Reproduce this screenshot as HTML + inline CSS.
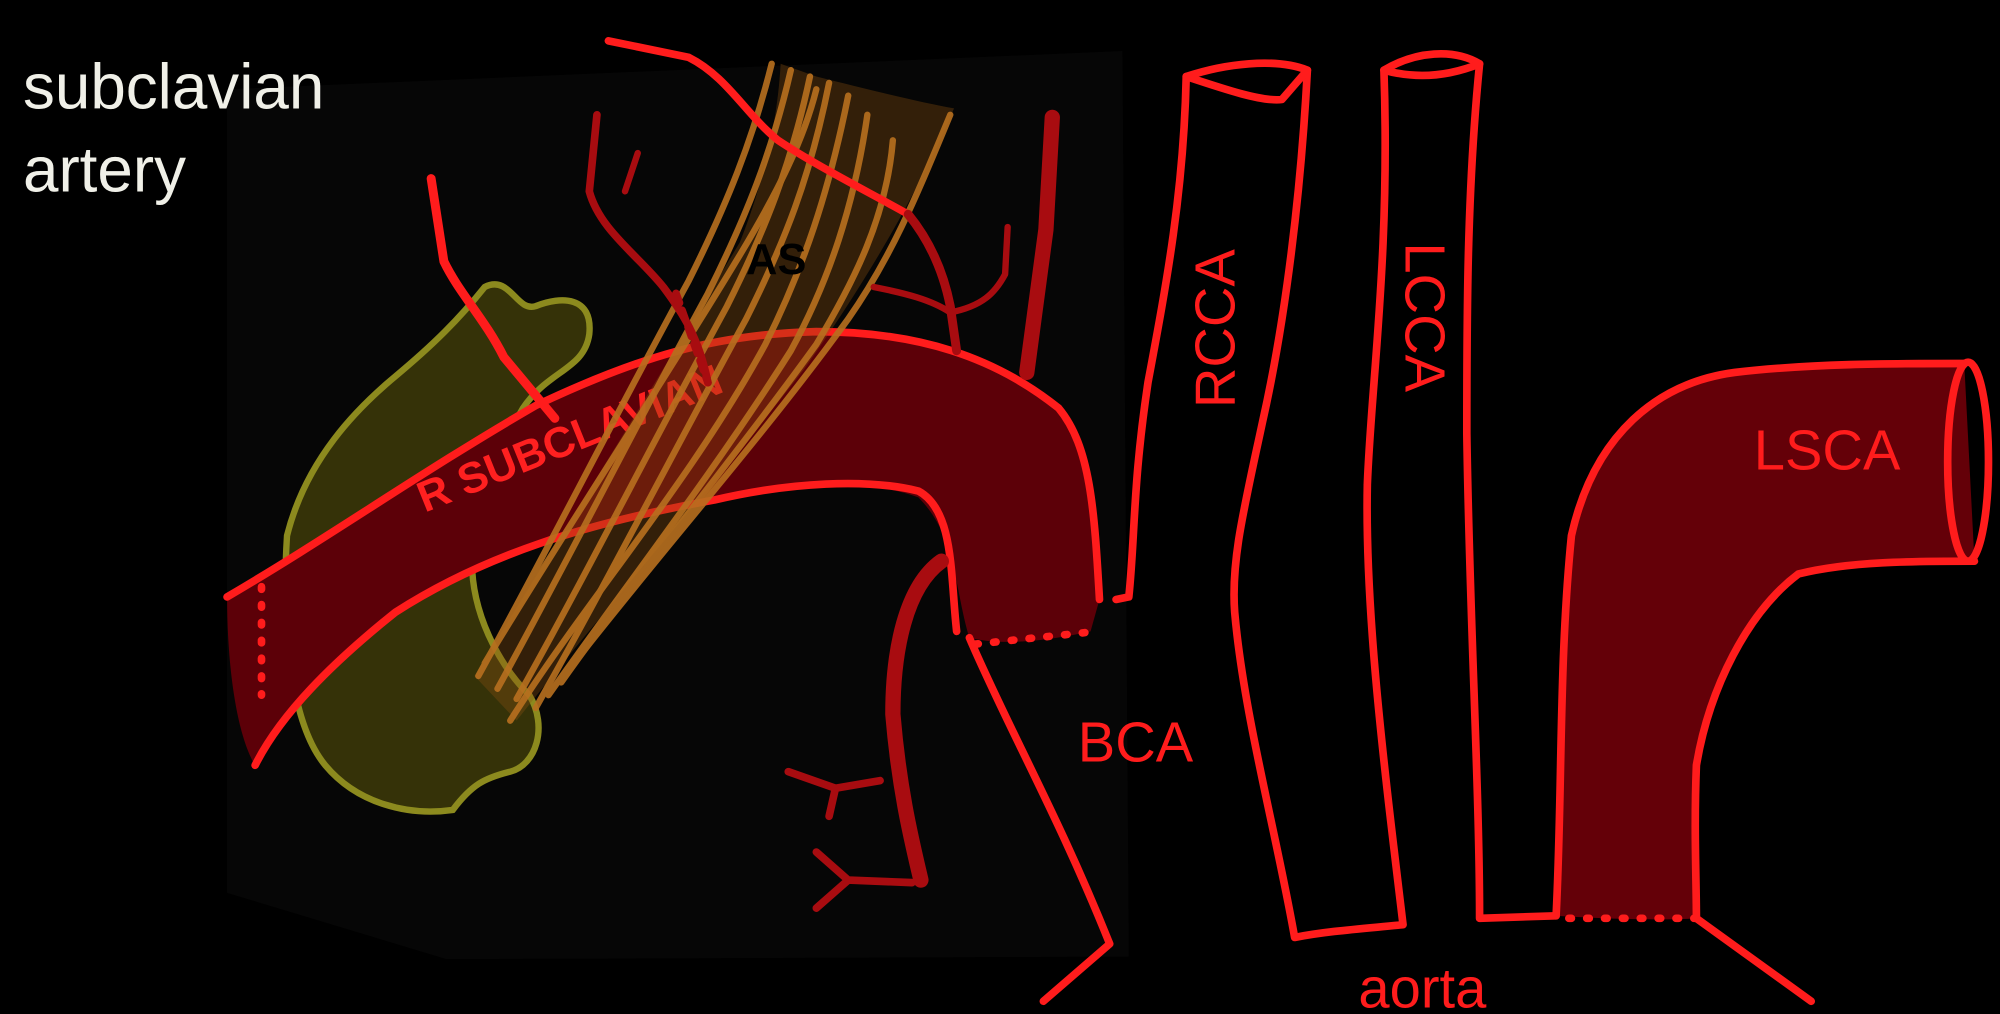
<!DOCTYPE html>
<html><head><meta charset="utf-8"><style>
html,body{margin:0;padding:0;background:#000;width:2000px;height:1014px;overflow:hidden}
svg{display:block}
</style></head><body>
<svg width="2000" height="1014" viewBox="0 0 1568 795" xmlns="http://www.w3.org/2000/svg">
<rect width="1568" height="795" fill="#000"/>
<path d="M178 70 L880 40 L885 750 L350 752 L178 700 Z" fill="#060606"/>
<text x="18" y="85" font-family="Liberation Sans, sans-serif" font-size="50" fill="#f0f0e8">subclavian</text>
<text x="18" y="150" font-family="Liberation Sans, sans-serif" font-size="50" fill="#f0f0e8">artery</text>

<!-- yellow blob -->
<path d="M225 420 C240 360 280 320 310 295 C340 270 360 250 380 225 C400 215 405 245 420 240 C440 232 465 232 462 262 C458 290 430 290 410 320 C395 345 380 380 370 440 C370 480 390 520 415 545 C430 570 420 600 400 605 C380 610 370 615 355 635 C320 640 280 630 255 600 C230 570 220 500 225 420 Z" fill="#353208" stroke="#8c8a1e" stroke-width="5"/>

<!-- subclavian tube -->
<path d="M178 468 C260 420 330 370 420 318 C500 280 560 262 640 260 C720 260 780 280 830 320 C855 350 858 400 862 470 L855 495 C810 505 780 505 760 500 C748 460 750 420 720 390 C680 375 620 378 560 392 C460 410 380 435 310 480 C260 520 220 560 200 600 C185 575 178 520 178 468 Z" fill="#5c0008"/>
<path d="M178 468 C260 420 330 370 420 318 C500 280 560 262 640 260 C720 260 780 280 830 320 C855 350 858 400 862 470" fill="none" stroke="#ff1c1c" stroke-width="6" stroke-linecap="round"/>
<path d="M200 600 C220 560 260 520 310 480 C380 435 460 410 560 392 C620 378 680 375 720 385 C748 400 745 450 750 495" fill="none" stroke="#ff1c1c" stroke-width="6" stroke-linecap="round"/>
<path d="M205 460 L205 545" stroke="#ff1c1c" stroke-width="6" stroke-dasharray="2 12" stroke-linecap="round"/>
<path d="M765 505 L860 495" stroke="#ff1c1c" stroke-width="6" stroke-dasharray="2 12" stroke-linecap="round"/>
<text x="0" y="0" transform="translate(333 402) rotate(-22)" font-family="Liberation Sans, sans-serif" font-weight="bold" font-size="34" fill="#ff2020">R SUBCLAVIAN</text>

<!-- orange fibers -->
<path d="M372 530 C440 420 520 290 580 190 C600 140 610 90 612 50 L640 60 C680 70 720 80 748 85 C720 150 680 220 630 290 C560 380 480 470 405 565 Z" fill="#8a5012" opacity="0.35"/>
<g fill="none" stroke="#b8701f" stroke-width="5" opacity="0.9" stroke-linecap="round">
<path d="M375 530 C430 430 480 330 540 220 C570 160 590 110 605 50"/>
<path d="M390 540 C445 440 495 340 555 230 C585 170 605 120 620 55"/>
<path d="M405 548 C460 450 510 350 570 240 C600 180 620 130 635 60"/>
<path d="M420 555 C475 458 525 360 585 250 C615 190 635 140 650 65"/>
<path d="M400 565 C460 470 540 380 600 270 C630 210 650 150 665 75"/>
<path d="M430 545 C490 460 560 370 620 275 C650 220 670 160 680 90"/>
<path d="M440 535 C500 450 575 360 640 270 C670 220 695 170 700 110"/>
<path d="M380 520 C440 420 520 300 580 200 C610 150 630 110 640 70"/>
<path d="M450 520 C520 430 600 340 665 250 C700 200 720 150 745 90"/>
</g>
<text x="585" y="215" font-family="Liberation Sans, sans-serif" font-weight="bold" font-size="34" fill="#000">AS</text>

<!-- small branches -->
<g fill="none" stroke-linecap="round" stroke-linejoin="round">
<path d="M338 140 L348 205 C360 230 380 250 395 280 L435 328" stroke="#ff1c1c" stroke-width="7"/>
<path d="M477 32 L540 45 C570 60 585 90 610 110 C640 130 680 150 712 168" stroke="#ff1c1c" stroke-width="6"/>
<path d="M468 90 L462 150 C470 180 500 200 520 225 C535 245 548 265 555 300" stroke="#a80c10" stroke-width="6"/>
<path d="M500 120 L490 150" stroke="#a80c10" stroke-width="5"/>
<path d="M530 230 L555 300" stroke="#a80c10" stroke-width="6" stroke-dasharray="8 6"/>
<path d="M825 92 L820 180 L805 292" stroke="#a80c10" stroke-width="12"/>
<path d="M712 168 C730 190 740 215 745 240 L750 275" stroke="#a80c10" stroke-width="7"/>
<path d="M790 178 L788 215 C780 230 770 240 745 245" stroke="#a80c10" stroke-width="5"/>
<path d="M685 225 C710 230 730 235 745 245" stroke="#a80c10" stroke-width="5"/>
<path d="M738 440 C710 460 700 510 700 560 C705 620 715 660 722 690" stroke="#a80c10" stroke-width="12"/>
<path d="M618 605 L655 618 L690 612" stroke="#a80c10" stroke-width="6"/>
<path d="M655 618 L650 640" stroke="#a80c10" stroke-width="6"/>
<path d="M640 668 L665 690 L715 692" stroke="#a80c10" stroke-width="6"/>
<path d="M665 690 L640 712" stroke="#a80c10" stroke-width="6"/>
</g>

<!-- BCA / RCCA / LCCA outline -->
<g fill="none" stroke="#ff1c1c" stroke-width="6" stroke-linecap="round" stroke-linejoin="round">
<path d="M760 500 C790 570 830 640 870 740 L818 785"/>
<path d="M875 470 L885 468 C890 420 888 380 900 300 C915 220 928 150 930 60 C960 50 1000 45 1025 55 C1020 150 1008 250 990 330 C975 400 965 440 968 480 C975 560 1000 650 1015 735 C1040 730 1070 728 1100 725 C1085 600 1070 480 1072 380 C1075 300 1090 200 1085 55 C1110 40 1140 38 1160 50 C1150 150 1150 250 1150 340 C1152 480 1160 620 1160 720 L1220 718"/>
<path d="M930 60 C960 70 990 80 1005 78 L1025 55"/>
<path d="M1085 55 C1110 62 1135 60 1160 50"/>
<path d="M1330 720 L1420 785"/>
</g>
<text x="0" y="0" transform="translate(968 320) rotate(-90)" font-family="Liberation Sans, sans-serif" font-size="44" fill="#ff1c1c">RCCA</text>
<text x="0" y="0" transform="translate(1102 190) rotate(90)" font-family="Liberation Sans, sans-serif" font-size="44" fill="#ff1c1c">LCCA</text>

<!-- LSCA -->
<path d="M1220 718 C1225 620 1222 520 1232 420 C1250 340 1300 300 1360 292 C1420 285 1480 285 1540 285 L1548 440 C1500 440 1450 440 1410 450 C1370 480 1340 540 1330 600 C1328 650 1330 690 1330 720 C1300 722 1250 720 1220 718 Z" fill="#640008" stroke="none"/>
<g fill="none" stroke="#ff1c1c" stroke-width="6" stroke-linecap="round">
<path d="M1220 718 C1225 620 1222 520 1232 420 C1250 340 1300 300 1360 292 C1420 285 1480 285 1540 285"/>
<path d="M1330 720 C1330 690 1328 650 1330 600 C1340 540 1370 480 1410 450 C1450 440 1500 440 1548 440"/>
<ellipse cx="1543" cy="362" rx="16" ry="78"/>
<path d="M1230 720 L1330 720" stroke-dasharray="2 12"/>
</g>
<text x="1375" y="368" font-family="Liberation Sans, sans-serif" font-size="44" fill="#ff1c1c">LSCA</text>
<text x="845" y="597" font-family="Liberation Sans, sans-serif" font-size="44" fill="#ff1c1c">BCA</text>
<text x="1065" y="790" font-family="Liberation Sans, sans-serif" font-size="44" fill="#ff1c1c">aorta</text>
</svg>
</body></html>
